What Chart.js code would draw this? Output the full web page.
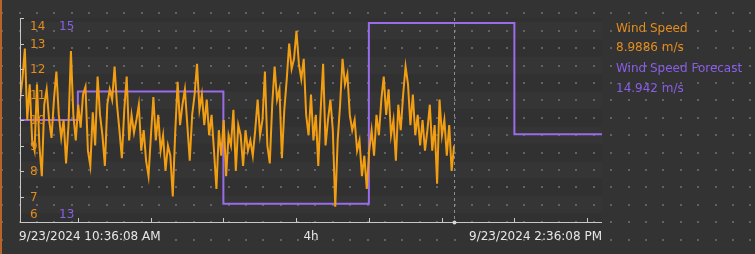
<!DOCTYPE html>
<html>
<head>
<meta charset="utf-8">
<script src="https://cdn.jsdelivr.net/npm/chart.js@4.4.1/dist/chart.umd.min.js"></script>
<style>
html,body{margin:0;padding:0;background:#333333;overflow:hidden}
#wrap{position:relative;width:755px;height:254px}
</style>
</head>
<body>
<div id="wrap"><canvas id="myChart" width="755" height="254"></canvas></div>
<script>
// 축 라벨 (시작/끝 시각, 범위)
var startLabel = "9/23/2024 10:36:08 AM";
var endLabel = "9/23/2024 2:36:08 PM";
var spanLabel = "4h";
var spanSec = 14400;      // 4시간
var sampleSec = 60;       // 풍속 샘플 간격(초)
var tickStartSec = 1432;  // 11:00:00
var tickStepSec = 1800;   // 30분

// 풍속 (m/s), 10:36:08 부터 1분 간격
var windSpeed = [
    10.8, 11.6, 12.8, 10.0, 11.4, 9.2, 8.8, 11.4, 9.0, 7.8,
    10.6, 11.2, 10.0, 9.3, 10.8, 11.9, 10.2, 9.3, 10.0, 8.3,
    9.8, 12.7, 10.2, 9.2, 10.6, 9.7, 11.0, 11.3, 8.8, 8.2,
    10.3, 9.0, 11.7, 10.2, 9.4, 8.2, 10.6, 11.2, 10.8, 12.1,
    10.6, 9.6, 8.5, 10.4, 11.7, 9.2, 10.2, 9.5, 10.0, 10.6,
    8.8, 9.6, 8.4, 7.8, 9.4, 10.9, 9.2, 10.2, 8.8, 9.4,
    8.0, 9.0, 8.6, 7.0, 9.5, 11.5, 9.8, 10.6, 11.2, 9.8,
    8.4, 10.2, 11.0, 12.2, 10.4, 11.0, 9.8, 10.8, 9.4, 10.2,
    8.8, 7.3, 9.6, 8.6, 10.0, 7.8, 9.4, 9.0, 10.4, 8.0,
    9.8, 9.4, 8.2, 9.6, 8.8, 9.2, 8.6, 9.6, 10.8, 9.4,
    10.0, 11.9, 9.0, 8.3, 10.6, 12.1, 10.8, 11.2, 8.5, 10.4,
    11.6, 13.0, 12.0, 12.4, 13.5, 12.2, 11.6, 12.4, 10.2, 9.4,
    11.0, 9.2, 10.2, 8.2, 10.4, 12.2, 9.0, 10.0, 10.8, 9.6,
    6.6, 9.2, 10.6, 12.4, 11.4, 11.8, 10.2, 9.6, 10.0, 8.8,
    9.2, 7.8, 8.6, 7.3, 8.8, 9.6, 8.6, 10.2, 9.4, 10.8,
    11.7, 10.2, 11.2, 9.4, 10.0, 8.4, 10.6, 9.6, 11.0, 12.1,
    11.4, 9.8, 11.0, 9.4, 10.2, 9.0, 10.0, 8.8, 9.6, 10.6,
    8.8, 9.8, 7.5, 10.8, 9.4, 10.0, 8.6, 9.8, 8.0, 9.0
];

// 풍속 예보 (m/s), 시작 시각 기준 초
var forecastTimes = [0, 1432, 5032, 8632, 12232, 14400];
var forecastValues = [14.0, 14.28, 13.18, 14.95, 13.86, 13.86];

var leftTicks = [6, 7, 8, 9, 10, 11, 12, 13, 14];
var rightTicks = [13, 15];

var legendNames = ["Wind Speed", "Wind Speed Forecast"];
var legendValues = ["8.9886 m/s", "14.942 m/s"];

var orange = "#f29e12";
var orangeText = "#e38d1e";
var purple = "#9a6cec";
var purpleText = "#8a5ee8";
var axisColor = "#c8c8c8";
var font12 = "12px 'DejaVu Sans'";

var windData = [];
for (var i = 0; i < windSpeed.length; i++) {
    windData.push({x: i * sampleSec, y: windSpeed[i]});
}
var forecastData = [];
for (var i = 0; i < forecastTimes.length; i++) {
    forecastData.push({x: forecastTimes[i], y: forecastValues[i]});
}
var cursorSec = (windSpeed.length - 1) * sampleSec;

// 배경: 줄무늬 + 점 격자
var backgroundPlugin = {
    id: 'backgroundPlugin',
    beforeDraw: function(chart) {
        var ctx = chart.ctx;
        var a = chart.chartArea;
        ctx.save();
        ctx.fillStyle = "#333333";
        ctx.fillRect(0, 0, chart.width, chart.height);
        // 줄무늬 (아주 옅게)
        var step = 17.4;
        for (var k = 0; k < 14; k++) {
            var y0 = 4.6 + k * step;
            if (k % 2 == 0) {
                ctx.fillStyle = "rgba(0,0,0,0.035)";
            } else {
                ctx.fillStyle = "rgba(255,255,255,0.012)";
            }
            var top = Math.max(y0, a.top);
            var bot = Math.min(y0 + step, a.bottom);
            if (bot > top) ctx.fillRect(a.left, top, a.right - a.left, bot - top);
        }
        // 점 격자
        ctx.fillStyle = "#626262";
        for (var x = 1.3; x < chart.width; x += step) {
            for (var y = 13.3; y < chart.height; y += step) {
                ctx.fillRect(Math.round(x), Math.round(y) - 1, 2, 2);
            }
        }
        // 왼쪽 가장자리
        ctx.fillStyle = "#b9652a";
        ctx.fillRect(0, 0, 2, chart.height);
        ctx.restore();
    }
};

// 축, 커서, 범례
var axesPlugin = {
    id: 'axesPlugin',
    afterDatasetsDraw: function(chart) {
        var ctx = chart.ctx;
        var a = chart.chartArea;
        var xs = chart.scales.x;
        var ys = chart.scales.y;
        var y2 = chart.scales.y2;
        ctx.save();

        // 커서 점선
        var cx = Math.round(xs.getPixelForValue(cursorSec)) + 0.5;
        ctx.strokeStyle = "#8c8c8c";
        ctx.lineWidth = 1;
        ctx.setLineDash([3, 3]);
        ctx.beginPath();
        ctx.moveTo(cx, a.top);
        ctx.lineTo(cx, a.bottom);
        ctx.stroke();
        ctx.setLineDash([]);

        // 축 선
        ctx.strokeStyle = axisColor;
        ctx.beginPath();
        ctx.moveTo(a.left + 0.5, a.top);
        ctx.lineTo(a.left + 0.5, a.bottom + 0.5);
        ctx.lineTo(a.right, a.bottom + 0.5);
        ctx.stroke();

        // y 눈금
        ctx.font = font12;
        ctx.textBaseline = "middle";
        ctx.textAlign = "left";
        for (var i = 0; i < leftTicks.length; i++) {
            var py = Math.round(ys.getPixelForValue(leftTicks[i])) + 0.5;
            ctx.strokeStyle = axisColor;
            ctx.beginPath();
            ctx.moveTo(a.left, py);
            ctx.lineTo(a.left + 4, py);
            ctx.stroke();
            var ly = Math.min(Math.max(py, a.top + 9), a.bottom - 7);
            ctx.fillStyle = orangeText;
            ctx.fillText(String(leftTicks[i]), a.left + 10, ly);
        }
        ctx.fillStyle = purpleText;
        for (var i = 0; i < rightTicks.length; i++) {
            var py = y2.getPixelForValue(rightTicks[i]);
            var ly = Math.min(Math.max(py, a.top + 9), a.bottom - 7);
            ctx.fillText(String(rightTicks[i]), a.left + 39, ly);
        }

        // x 눈금 (30분)
        ctx.strokeStyle = axisColor;
        for (var t = tickStartSec; t <= spanSec; t += tickStepSec) {
            var px = Math.round(xs.getPixelForValue(t)) + 0.5;
            ctx.beginPath();
            ctx.moveTo(px, a.bottom - 4);
            ctx.lineTo(px, a.bottom);
            ctx.stroke();
        }
        // 커서 점
        ctx.fillStyle = "#d8d8d8";
        ctx.beginPath();
        ctx.arc(cx, a.bottom + 0.5, 2, 0, Math.PI * 2);
        ctx.fill();

        // x 라벨
        ctx.fillStyle = "#e6e6e6";
        var ty = a.bottom + 15;
        ctx.textAlign = "left";
        ctx.fillText(startLabel, a.left - 1, ty);
        ctx.textAlign = "center";
        ctx.fillText(spanLabel, (a.left + a.right) / 2, ty);
        ctx.textAlign = "right";
        ctx.fillText(endLabel, a.right, ty);

        // 범례
        ctx.textAlign = "left";
        var lx = a.right + 14;
        ctx.fillStyle = orangeText;
        ctx.fillText(legendNames[0], lx, 29);
        ctx.fillText(legendValues[0], lx, 48);
        ctx.fillStyle = purpleText;
        ctx.fillText(legendNames[1], lx, 69);
        ctx.fillText(legendValues[1], lx, 89);
        ctx.restore();
    }
};

var ctx1 = document.getElementById('myChart').getContext('2d');
var myChart = new Chart(ctx1, {
    type: 'line',
    data: {
        datasets: [{
            label: legendNames[0],
            data: windData,
            yAxisID: 'y',
            borderColor: orange,
            backgroundColor: orange,
            borderWidth: 2,
            pointRadius: 0,
            tension: 0
        }, {
            label: legendNames[1],
            data: forecastData,
            yAxisID: 'y2',
            borderColor: purple,
            backgroundColor: purple,
            borderWidth: 2,
            pointRadius: 0,
            stepped: true
        }]
    },
    options: {
        responsive: false,
        animation: false,
        layout: {
            padding: {left: 20, top: 18, right: 153, bottom: 32}
        },
        scales: {
            x: {type: 'linear', min: 0, max: spanSec, display: false},
            y: {min: 6, max: 14, display: false},
            y2: {min: 13, max: 15, display: false}
        },
        plugins: {
            legend: {display: false},
            tooltip: {enabled: false}
        }
    },
    plugins: [backgroundPlugin, axesPlugin]
});
</script>
</body>
</html>
